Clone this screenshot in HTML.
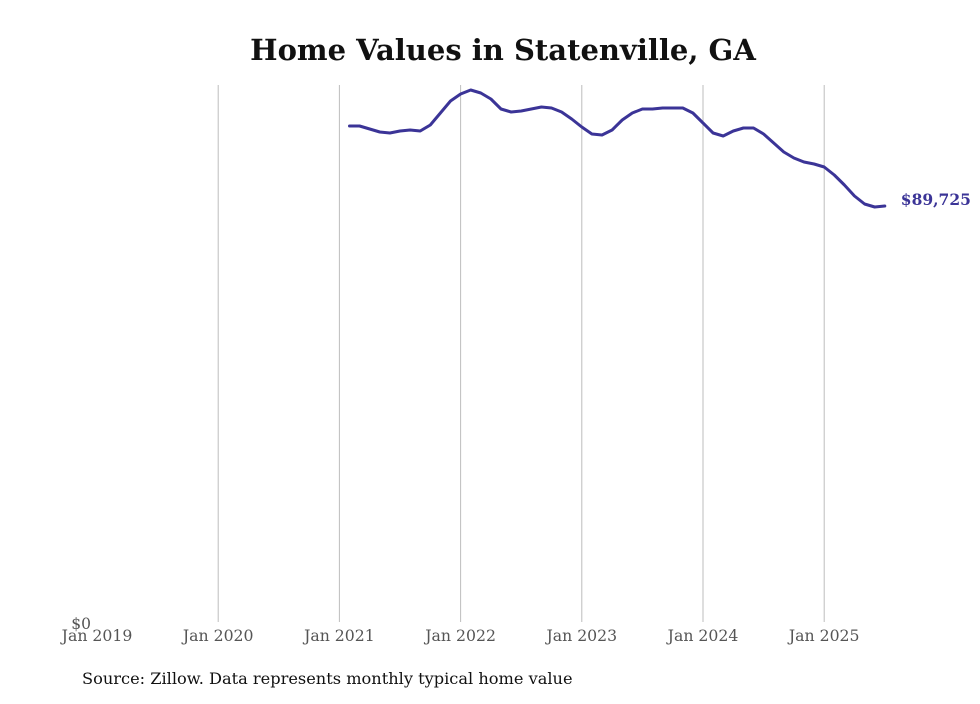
<!DOCTYPE html>
<html><head><meta charset="utf-8"><style>
body{margin:0;background:#fff;}
svg text{font-family:"DejaVu Serif","Liberation Serif",serif;}
</style></head><body>
<svg width="980" height="699" viewBox="0 0 980 699" xmlns="http://www.w3.org/2000/svg">
<rect width="980" height="699" fill="#fff"/>
<text x="503" y="60" text-anchor="middle" font-size="29" font-weight="bold" fill="#111">Home Values in Statenville, GA</text>
<g id="grid"></g>
<g id="xticks"></g>
<text x="91" y="629" text-anchor="end" font-size="15.5" fill="#555">$0</text>
<path id="line" fill="none" stroke="#3b3497" stroke-width="3" stroke-linejoin="round" stroke-linecap="round"/>
<text id="endlabel" font-size="15.5" font-weight="bold" fill="#3b3497"></text>
<text x="82" y="684" font-size="16.2" fill="#111">Source: Zillow. Data represents monthly typical home value</text>
</svg>
<script>
const tickLabels=["Jan 2019","Jan 2020","Jan 2021","Jan 2022","Jan 2023","Jan 2024","Jan 2025"];
const startMonthIndex=25; // Feb 2021, months since Jan 2019
const values=[106856,106856,106213,105571,105357,105785,106000,105785,107070,109640,112209,113708,114565,113922,112638,110496,109854,110068,110496,110925,110710,109854,108355,106642,105143,104929,106000,108141,109640,110496,110496,110710,110710,110710,109640,107498,105357,104714,105785,106428,106428,105143,103215,101288,100003,99147,98719,98076,96363,94222,91866,90153,89511,89725];
const yMax=115636;
const x0=97,pxPerMonth=121.2/12,yBase=625,yTop=85;
const xs=m=>x0+m*pxPerMonth;
const ys=v=>yBase-(v/yMax)*(yBase-yTop);
const NS="http://www.w3.org/2000/svg";
const grid=document.getElementById('grid'),xt=document.getElementById('xticks');
tickLabels.forEach((t,i)=>{
  const x=xs(i*12);
  if(i>0){const l=document.createElementNS(NS,'line');
  
  
  l.setAttribute('x1',x);l.setAttribute('x2',x);l.setAttribute('y1',yTop);l.setAttribute('y2',622);
  l.setAttribute('stroke','#bdbdbd');l.setAttribute('stroke-width','1');grid.appendChild(l);}
  const tx=document.createElementNS(NS,'text');
  
  
  tx.setAttribute('x',x);tx.setAttribute('y',641);tx.setAttribute('text-anchor','middle');
  tx.setAttribute('font-size','15.7');tx.setAttribute('fill','#555');tx.textContent=t;xt.appendChild(tx);
});
let d='';
values.forEach((v,i)=>{d+=(i?'L':'M')+xs(startMonthIndex+i).toFixed(1)+','+ys(v).toFixed(1);});
document.getElementById('line').setAttribute('d',d);
const last=values[values.length-1];
const el=document.getElementById('endlabel');
el.setAttribute('x',xs(startMonthIndex+values.length-1)+16);
el.setAttribute('y',ys(last)-1);
el.textContent='$'+last.toLocaleString('en-US');
</script>
</body></html>
